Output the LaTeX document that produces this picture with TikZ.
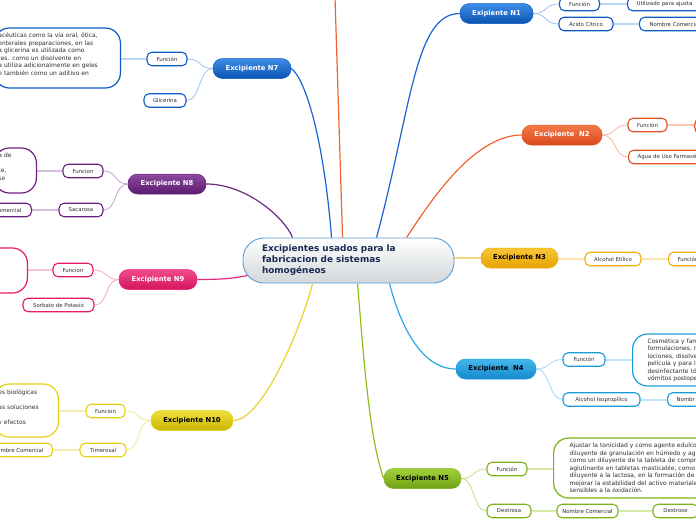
\documentclass[tikz,border=0pt]{standalone}
\usepackage{fontspec}
\setmainfont{DejaVu Sans}
\usetikzlibrary{calc}
\pgfdeclarelayer{back}
\pgfdeclarelayer{bg}
\pgfsetlayers{back,bg,main}
\definecolor{txt}{HTML}{2E2E2E}
\definecolor{cenD}{HTML}{5A9ED6}
\definecolor{cenB}{HTML}{D2D7DA}
\definecolor{cenT}{HTML}{1A2A52}
% blue
\definecolor{blueTop}{HTML}{3D8EE8}\definecolor{blueBot}{HTML}{0B52B0}\definecolor{blueD}{HTML}{0D5BC6}
\definecolor{blueL}{HTML}{1A63D0}\definecolor{blueLL}{HTML}{9EC3F0}\definecolor{blueLLL}{HTML}{B9D5F5}
% orange
\definecolor{orTop}{HTML}{F37A4A}\definecolor{orBot}{HTML}{D9481A}\definecolor{orD}{HTML}{E0501E}
\definecolor{orL}{HTML}{F0642F}\definecolor{orLL}{HTML}{F8B49C}\definecolor{orLLL}{HTML}{FAC8B4}
% amber
\definecolor{amTop}{HTML}{F9C63A}\definecolor{amBot}{HTML}{E9A200}\definecolor{amD}{HTML}{F2AE00}
\definecolor{amL}{HTML}{FAD680}\definecolor{amLLL}{HTML}{FCE3A8}
% cyan
\definecolor{cyTop}{HTML}{45B8EE}\definecolor{cyBot}{HTML}{1388CC}\definecolor{cyD}{HTML}{1A9ADA}
\definecolor{cyL}{HTML}{2AA8E6}\definecolor{cyLL}{HTML}{A6DAF5}\definecolor{cyLLL}{HTML}{BFE4F8}
% green
\definecolor{grTop}{HTML}{A2D23A}\definecolor{grBot}{HTML}{6FA214}\definecolor{grD}{HTML}{7DB318}
\definecolor{grL}{HTML}{8CC020}\definecolor{grLL}{HTML}{C6E08A}\definecolor{grLLL}{HTML}{D4E8A8}
% purple
\definecolor{puTop}{HTML}{8D4A9E}\definecolor{puBot}{HTML}{5C1A70}\definecolor{puD}{HTML}{6A2180}
\definecolor{puL}{HTML}{6D2A84}\definecolor{puLL}{HTML}{C7A3D2}\definecolor{puLLL}{HTML}{D6BCDE}
% pink
\definecolor{piTop}{HTML}{F24C8A}\definecolor{piBot}{HTML}{D4145E}\definecolor{piD}{HTML}{E8186C}
\definecolor{piL}{HTML}{E8287A}\definecolor{piLL}{HTML}{F6A6C6}\definecolor{piLLL}{HTML}{F9C2D8}
% yellow
\definecolor{yeTop}{HTML}{EEDF3C}\definecolor{yeBot}{HTML}{CBB700}\definecolor{yeD}{HTML}{E6D214}
\definecolor{yeL}{HTML}{E6D42A}\definecolor{yeLL}{HTML}{F2E79A}\definecolor{yeLLL}{HTML}{F6EDB4}
\begin{document}
\begin{tikzpicture}[x=1pt,y=-1pt,
  topic/.style={rounded corners=9.5pt, minimum height=20pt, inner sep=0pt,
    font=\fontsize{6.8}{7}\selectfont\bfseries, line width=0.5pt},
  sub/.style={draw, fill=white, rounded corners=5pt, line width=1.1pt,
    minimum height=13.5pt, inner sep=0pt, font=\fontsize{5.4}{6}\selectfont, text=txt},
  detail/.style={draw, fill=white, rounded corners=15pt, line width=1.2pt,
    align=left, inner ysep=0pt, font=\fontsize{6}{7.5}\selectfont, text=txt},
  mainln/.style={line width=1.2pt},
  subln/.style={line width=0.8pt},
  detln/.style={line width=2pt},
  blueT/.style={top color=blueTop, bottom color=blueBot, draw=blueD},
  orT/.style={top color=orTop, bottom color=orBot, draw=orD},
  amT/.style={top color=amTop, bottom color=amBot, draw=amD},
  cyT/.style={top color=cyTop, bottom color=cyBot, draw=cyD},
  grT/.style={top color=grTop, bottom color=grBot, draw=grD},
  puT/.style={top color=puTop, bottom color=puBot, draw=puD},
  piT/.style={top color=piTop, bottom color=piBot, draw=piD},
  yeT/.style={top color=yeTop, bottom color=yeBot, draw=yeD}
]
\useasboundingbox (0,0) rectangle (696,520);
\clip (0,0) rectangle (696,520);
\begin{pgfonlayer}{back}
\fill[white] (0,0) rectangle (696,520);
\end{pgfonlayer}

% central topic
\node[draw=cenD, line width=0.9pt, top color=white, bottom color=cenB, rounded corners=21pt,
  minimum width=211pt, minimum height=45pt, text width=173pt, inner xsep=19pt, inner ysep=0pt,
  align=left, font=\fontsize{8.9}{11}\selectfont\bfseries, text=cenT] (c) at (348.5,260.5)
  {Excipientes usados para la\\fabricacion de sistemas\\homogéneos};
\coordinate (topo) at (335,-3);

% N1
\node[topic, blueT, text=white, minimum width=73pt] (n1) at (496.5,13.5) {Exipiente N1};
\node[sub, draw=blueD, minimum width=40pt] (n1f) at (579.5,4) {Función};
\node[sub, draw=blueD, minimum width=54pt] (n1a) at (586,24) {Ácido Cítrico};
\node[sub, draw=blueD, anchor=west, text width=100pt, align=left, inner xsep=9pt] (n1u) at (627,4) {Utilizado para ajusta};
\node[sub, draw=blueD, anchor=west, text width=100pt, align=left, inner xsep=10pt] (n1n) at (639,24) {Nombre Comercia};

% N2
\node[topic, orT, text=white, minimum width=80pt] (n2) at (562,135) {Excipiente\ \ N2};
\node[sub, draw=orD, minimum width=39pt] (n2f) at (647.5,125) {Función};
\node[detail, draw=orD, anchor=west, minimum width=60pt, minimum height=28pt] (n2d) at (694,126) {};
\node[sub, draw=orD, anchor=west, text width=100pt, align=left, inner xsep=9pt] (n2a) at (628,157) {Agua de Uso Farmacé};

% N3
\node[topic, amT, text=black, minimum width=77pt] (n3) at (519.5,258) {Excipiente N3};
\node[sub, draw=amD, minimum width=56pt] (n3a) at (613,259) {Alcohol Etílico};
\node[sub, draw=amD, anchor=west, text width=60pt, align=left, inner xsep=9pt] (n3f) at (668,259) {Función};

% N4
\node[topic, cyT, text=black, minimum width=80pt] (n4) at (496,369) {Excipiente\ \ N4};
\node[sub, draw=cyD, minimum width=42pt] (n4f) at (584,359.5) {Función};
\node[detail, draw=cyD, anchor=west, text width=150pt, inner xsep=15pt, minimum height=52pt] (n4d) at (632,360)
  {Cosmética y fam\\formulaciones, r\\lociones, disolve\\película y para l\\desinfectante tó\\vómitos postope};
\node[sub, draw=cyD, minimum width=77pt] (n4a) at (601.5,399.5) {Alcohol Isopropílico};
\node[sub, draw=cyD, anchor=west, text width=60pt, align=left, inner xsep=9pt] (n4n) at (667,399.5) {Nombr};

% N5
\node[topic, grT, text=black, minimum width=77pt] (n5) at (422.5,478.5) {Excipiente N5};
\node[sub, draw=grD, minimum width=40pt] (n5f) at (507,469) {Función};
\node[detail, draw=grD, anchor=west, text width=200pt, inner xsep=16pt, minimum height=60pt] (n5d) at (553,468)
  {Ajustar la tonicidad y como agente edulco\\diluyente de granulación en húmedo y agl\\como un diluyente de la tableta de compr\\aglutinante en tabletas masticable, como\\diluyente a la lactosa, en la formación de\\mejorar la estabilidad del activo materiale\\sensibles a la oxidación.};
\node[sub, draw=grD, minimum width=44pt] (n5x) at (509,511) {Dextrosa};
\node[sub, draw=grD, minimum width=61pt] (n5n) at (587.5,511) {Nombre Comercial};
\node[sub, draw=grD, minimum width=45pt] (n5e) at (675.5,511) {Dextrose};

% N7
\node[topic, blueT, text=white, minimum width=78pt] (n7) at (252,68.5) {Excipiente N7};
\node[sub, draw=blueD, minimum width=40pt] (n7f) at (167,59) {Función};
\node[sub, draw=blueD, minimum width=42pt] (n7g) at (165,100.5) {Glicerina};
\node[detail, draw=blueD, anchor=east, text width=118pt, inner xsep=4pt, minimum height=60pt] (n7d) at (121,58)
  {acéuticas como la vía oral, ótica,\\enterales preparaciones, en las\\a glicerina es utilizada como\\tes. como un disolvente en\\a utiliza adicionalmente en geles\\e también como un aditivo en\\.};

% N8
\node[topic, puT, text=white, minimum width=78pt] (n8) at (167,184) {Excipiente N8};
\node[sub, draw=puD, minimum width=40pt] (n8f) at (83,171) {Funcion};
\node[sub, draw=puD, minimum width=44pt] (n8s) at (81,210) {Sacarosa};
\node[detail, draw=puD, anchor=east, text width=34pt, inner xsep=4pt, minimum height=45pt] (n8d) at (37,170.5)
  {a de\\,\\te,\\se\\\mbox{}};
\node[sub, draw=puD, anchor=east, text width=60pt, align=right, inner xsep=10pt] (n8n) at (32,210) {omercial};

% N9
\node[topic, piT, text=white, minimum width=78pt] (n9) at (158,279.5) {Excipiente N9};
\node[sub, draw=piD, minimum width=40pt] (n9f) at (73,270) {Funcion};
\node[sub, draw=piD, minimum width=71pt] (n9s) at (58.5,305) {Sorbato de Potasio};
\node[detail, draw=piD, anchor=east, minimum width=60pt, minimum height=45pt] (n9d) at (28,270.5) {};

% N10
\node[topic, yeT, text=black, minimum width=82pt] (n10) at (192,420.5) {Excipiente N10};
\node[sub, draw=yeD, minimum width=39pt] (n10f) at (105.5,411) {Funcion};
\node[sub, draw=yeD, minimum width=46pt] (n10t) at (103,450) {Timerosal};
\node[detail, draw=yeD, anchor=east, text width=56pt, inner xsep=4pt, minimum height=53pt] (n10d) at (59,410.5)
  {es biológicas\\\mbox{}\\as soluciones\\\mbox{}\\y efectos\\\mbox{}};
\node[sub, draw=yeD, anchor=east, text width=80pt, align=right, inner xsep=9pt] (n10n) at (53,450) {ombre Comercial};

\begin{pgfonlayer}{bg}
% main connectors
\draw[mainln, blueL] ($(c.north west)+(134,0)$) .. controls +(35,-130) and +(-45,0) .. (n1.west);
\draw[mainln, blueL] ($(c.north west)+(89,0)$) .. controls +(-8,-100) and +(14,10) .. (n7.east);
\draw[mainln, orL] ($(c.north west)+(100,0)$) -- (topo);
\draw[mainln, orL] ($(c.north west)+(164,0)$) .. controls +(20,-30) and +(-50,0) .. (n2.west);
\draw[line width=1.4pt, amL] (c.east |- n3.west) -- (n3.west);
\draw[mainln, cyL] ($(c.south west)+(147,0)$) .. controls +(10,40) and +(-35,0) .. (n4.west);
\draw[mainln, grL] ($(c.south west)+(115,0)$) .. controls +(5,60) and +(-15,-40) .. (n5.west);
\draw[mainln, yeL] ($(c.south west)+(70,0)$) .. controls +(-10,40) and +(30,0) .. (n10.east);
\draw[mainln, piL] ($(c.west)+(5,15)$) .. controls +(-15,3) and +(25,0) .. (n9.east);
\draw[mainln, puL] ($(c.north west)+(50,0)$) .. controls +(-8,-20) and +(40,0) .. (n8.east);
% N1
\draw[subln, blueLL] (n1.east) .. controls +(14,0) and +(-14,0) .. (n1f.west);
\draw[subln, blueLL] (n1.east) .. controls +(14,0) and +(-14,0) .. (n1a.west);
\draw[detln, blueLLL] (n1f.east) -- (n1f.east -| n1u.west);
\draw[detln, blueLLL] (n1a.east) -- (n1a.east -| n1n.west);
% N2
\draw[subln, orLL] (n2.east) .. controls +(14,0) and +(-14,0) .. (n2f.west);
\draw[subln, orLL] (n2.east) .. controls +(14,0) and +(-14,0) .. (n2a.west);
\draw[detln, orLLL] (n2f.east) -- (n2f.east -| n2d.west);
% N3
\draw[detln, amLLL] (n3.east |- n3a.west) -- (n3a.west);
\draw[detln, amLLL] (n3a.east) -- (n3a.east -| n3f.west);
% N4
\draw[subln, cyLL] (n4.east) .. controls +(14,0) and +(-14,0) .. (n4f.west);
\draw[subln, cyLL] (n4.east) .. controls +(14,0) and +(-14,0) .. (n4a.west);
\draw[detln, cyLLL] (n4f.east) -- (n4f.east -| n4d.west);
\draw[detln, cyLLL] (n4a.east) -- (n4a.east -| n4n.west);
% N5
\draw[subln, grLL] (n5.east) .. controls +(14,0) and +(-14,0) .. (n5f.west);
\draw[subln, grLL] (n5.east) .. controls +(14,0) and +(-14,0) .. (n5x.west);
\draw[detln, grLLL] (n5f.east) -- (n5f.east -| n5d.west);
\draw[detln, grLLL] (n5x.east) -- (n5n.west);
\draw[detln, grLLL] (n5n.east) -- (n5e.west);
% N7
\draw[subln, blueLL] (n7.west) .. controls +(-14,0) and +(14,0) .. (n7f.east);
\draw[subln, blueLL] (n7.west) .. controls +(-14,0) and +(14,0) .. (n7g.east);
\draw[detln, blueLLL] (n7f.west) -- (n7f.west -| n7d.east);
% N8
\draw[subln, puLL] (n8.west) .. controls +(-14,0) and +(14,0) .. (n8f.east);
\draw[subln, puLL] (n8.west) .. controls +(-14,0) and +(14,0) .. (n8s.east);
\draw[detln, puLLL] (n8f.west) -- (n8f.west -| n8d.east);
\draw[detln, puLLL] (n8s.west) -- (n8s.west -| n8n.east);
% N9
\draw[subln, piLL] (n9.west) .. controls +(-14,0) and +(14,0) .. (n9f.east);
\draw[subln, piLL] (n9.west) .. controls +(-14,0) and +(14,0) .. (n9s.east);
\draw[detln, piLLL] (n9f.west) -- (n9f.west -| n9d.east);
% N10
\draw[subln, yeLL] (n10.west) .. controls +(-14,0) and +(14,0) .. (n10f.east);
\draw[subln, yeLL] (n10.west) .. controls +(-14,0) and +(14,0) .. (n10t.east);
\draw[detln, yeLLL] (n10f.west) -- (n10f.west -| n10d.east);
\draw[detln, yeLLL] (n10t.west) -- (n10t.west -| n10n.east);
\end{pgfonlayer}
\end{tikzpicture}
\end{document}
